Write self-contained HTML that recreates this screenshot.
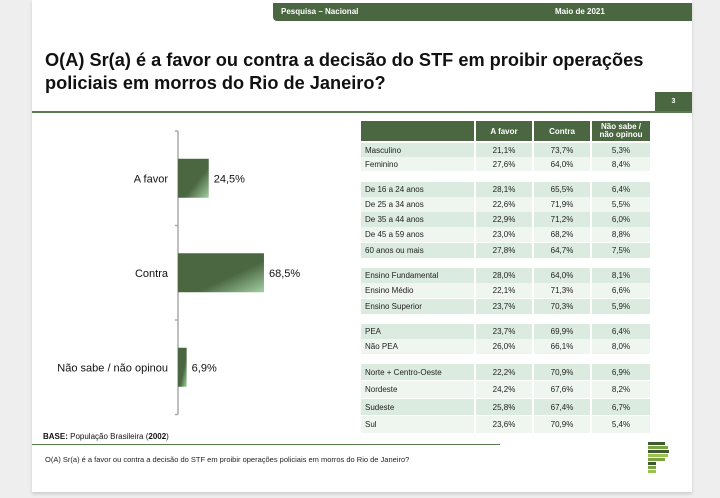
<!DOCTYPE html>
<html><head><meta charset="utf-8">
<style>
body{margin:0;width:720px;height:498px;background:#eeeeee;font-family:"Liberation Sans",sans-serif;position:relative;overflow:hidden}
.abs{position:absolute}
#slide{left:32px;top:0;width:660px;height:492px;background:#fff;box-shadow:0 2px 3px #ccc}
.row{position:absolute;left:361px;width:289px;font-size:8px;color:#222}
.row div{position:absolute;top:0;height:100%;display:flex;align-items:center}
.c0{left:0;width:113px;padding-left:4px;box-sizing:border-box}
.c1{left:115px;width:56px;justify-content:center}
.c2{left:173px;width:56px;justify-content:center}
.c3{left:231px;width:58px;justify-content:center}
</style></head><body>
<div id="slide" class="abs"></div>
<div class="abs" style="left:273px;top:3px;width:419px;height:18px;background:#4a6741;border-radius:0 0 0 4px"></div>
<div class="abs" style="left:281px;top:7px;font-size:8px;font-weight:bold;color:#fff">Pesquisa – Nacional</div>
<div class="abs" style="left:555px;top:7px;font-size:8px;font-weight:bold;color:#fff">Maio de 2021</div>
<div class="abs" style="left:45px;top:49px;font-size:18.2px;font-weight:bold;color:#111;line-height:23px">O(A) Sr(a) é a favor ou contra a decisão do STF em proibir operações<br>policiais em morros do Rio de Janeiro?</div>
<div class="abs" style="left:655px;top:92px;width:37px;height:19px;background:#4a6741;color:#fff;font-size:7px;font-weight:bold;display:flex;align-items:center;justify-content:center">3</div>
<div class="abs" style="left:32px;top:111px;width:660px;height:2px;background:#5a7a4f"></div>

<svg class="abs" style="left:0;top:0" width="720" height="498">
<defs><linearGradient id="g" x1="0" y1="0" x2="1" y2="1">
<stop offset="0" stop-color="#4a6741"/><stop offset="0.6" stop-color="#4a6741"/><stop offset="1" stop-color="#a3cfa3"/></linearGradient></defs>
<g id="axis"></g><g id="bars"></g>
</svg>

<div id="table"></div>

<div class="abs" style="left:43px;top:432px;font-size:8px;color:#111"><b>BASE:</b> População Brasileira (<b>2002</b>)</div>
<div class="abs" style="left:32px;top:444px;width:468px;height:1px;background:#5a7a4f"></div>
<div class="abs" style="left:45px;top:455px;font-size:7.5px;color:#222">O(A) Sr(a) é a favor ou contra a decisão do STF em proibir operações policiais em morros do Rio de Janeiro?</div>
<svg class="abs" style="left:645px;top:440px" width="30" height="40">
<rect x="3" y="2" width="17" height="3" fill="#3e5a2f"/><rect x="3" y="6" width="20" height="3" fill="#7aa341"/><rect x="3" y="10" width="21" height="3" fill="#3e5a2f"/><rect x="3" y="14" width="20" height="3" fill="#9bc24f"/><rect x="3" y="18" width="17" height="3" fill="#7aa341"/><rect x="3" y="22" width="8" height="3" fill="#3e5a2f"/><rect x="3" y="26" width="8" height="3" fill="#7aa341"/><rect x="3" y="30" width="8" height="3" fill="#9bc24f"/>
</svg>

<script>
const categories=["A favor","Contra","Não sabe / não opinou"];
const values=[24.5,68.5,6.9];
const valueLabels=["24,5%","68,5%","6,9%"];
const ns="http://www.w3.org/2000/svg";
const x0=178, pxPer=1.255, top0=131, band=94.5, barH=39;
const xS=v=>x0+v*pxPer;
const axis=document.getElementById('axis'), bars=document.getElementById('bars');
function mk(t,a,p){const e=document.createElementNS(ns,t);for(const k in a)e.setAttribute(k,a[k]);p.appendChild(e);return e;}
const al=mk('line',{x1:x0,y1:top0,x2:x0,y2:top0+band*categories.length,stroke:'#aaa','stroke-width':1.5},axis);


for(let i=0;i<=categories.length;i++){const t=mk('line',{x1:x0-3,x2:x0,y1:top0+band*i,y2:top0+band*i,stroke:'#aaa','stroke-width':1.5},axis);

}
categories.forEach((c,i)=>{
 const cy=top0+band*i+band/2;
 const r=mk('rect',{x:x0,y:cy-barH/2,width:xS(values[i])-x0,height:barH,fill:'url(#g)'},bars);
 
 
 const l=mk('text',{x:168,y:cy+4,'text-anchor':'end','font-size':11,fill:'#111'},bars);l.textContent=c;
 
 
 const v=mk('text',{x:xS(values[i])+5,y:cy+4,'font-size':11,fill:'#111'},bars);v.textContent=valueLabels[i];
 
 
});

const rowLabels=["Masculino","Feminino","De 16 a 24 anos","De 25 a 34 anos","De 35 a 44 anos","De 45 a 59 anos","60 anos ou mais","Ensino Fundamental","Ensino Médio","Ensino Superior","PEA","Não PEA","Norte + Centro-Oeste","Nordeste","Sudeste","Sul"];
const favor=["21,1%","27,6%","28,1%","22,6%","22,9%","23,0%","27,8%","28,0%","22,1%","23,7%","23,7%","26,0%","22,2%","24,2%","25,8%","23,6%"];
const contra=["73,7%","64,0%","65,5%","71,9%","71,2%","68,2%","64,7%","64,0%","71,3%","70,3%","69,9%","66,1%","70,9%","67,6%","67,4%","70,9%"];
const naosabe=["5,3%","8,4%","6,4%","5,5%","6,0%","8,8%","7,5%","8,1%","6,6%","5,9%","6,4%","8,0%","6,9%","8,2%","6,7%","5,4%"];
const rowTops=[143,157,182,197,212,227,243,268,283,299,324,339,364,381,399,416];
const rowHs=[14,14,15,15,15,15,15,15,15,15,15,15,16,17,16,17];
const shade=[1,0,1,0,1,0,1,1,0,1,1,0,1,0,1,0];
const tb=document.getElementById('table');
let h=document.createElement('div');h.className='row';h.style.top='121px';h.style.height='20px';h.style.color='#fff';h.style.fontWeight='bold';


h.innerHTML='<div class="c0" style="background:#4a6741"></div><div class="c1" style="background:#4a6741">A favor</div><div class="c2" style="background:#4a6741">Contra</div><div class="c3" style="background:#4a6741;text-align:center;line-height:8px">Não sabe /<br>não opinou</div>';
tb.appendChild(h);
rowLabels.forEach((l,i)=>{
 const r=document.createElement('div');r.className='row';
 r.style.top=rowTops[i]+'px';r.style.height=rowHs[i]+'px';
 
 
 const bg=shade[i]?'#dcebdf':'#eef6ef';
 r.innerHTML=`<div class="c0" style="background:${bg}">${l}</div><div class="c1" style="background:${bg}">${favor[i]}</div><div class="c2" style="background:${bg}">${contra[i]}</div><div class="c3" style="background:${bg}">${naosabe[i]}</div>`;
 tb.appendChild(r);
});
</script>
</body></html>
